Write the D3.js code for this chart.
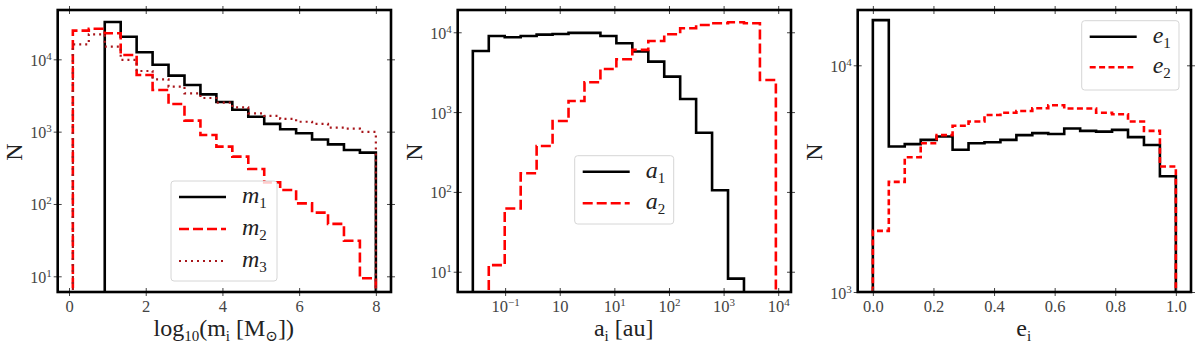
<!DOCTYPE html>
<html>
<head>
<meta charset="utf-8">
<script src="https://cdn.jsdelivr.net/npm/d3@7"></script>
<style>
  body { margin: 0; background: #fff; }
  svg { display: block; }
</style>
</head>
<body>
<div id="chart"></div>
<script>
// histogram bins: 19 equal bins per panel
const binCount = 19;
const mRange = [0.1, 8];          // log10(m) bins
const aRange = [-1.591, 3.957];   // bins in log10(a)
const eRange = [0, 1];

// counts
const m1 = [0, 0, 32800, 20500, 12500, 8400, 5950, 4420, 3280, 2570, 2010, 1610, 1280, 1080, 950, 780, 668, 558, 513];
const m2 = [24900, 26500, 22900, 11480, 6070, 3760, 2410, 1420, 900, 621, 451, 305, 199, 156, 102, 76, 53, 31, 9.4];
const m3 = [16100, 22200, 15000, 9800, 6900, 5290, 4190, 3390, 2920, 2520, 2170, 1790, 1650, 1500, 1370, 1280, 1135, 1100, 990];

const a1 = [5830, 8990, 8650, 8990, 9350, 9530, 9820, 9820, 8990, 7280, 5730, 4290, 2780, 1460, 552, 105, 8.2, 0, 0];
const a2 = [0, 12.1, 62, 171, 376, 773, 1377, 2360, 3470, 4590, 6010, 7790, 9440, 11220, 12350, 12970, 13350, 12970, 2520];

const e1 = [15830, 4385, 4490, 4690, 4850, 4240, 4530, 4580, 4690, 4920, 5020, 4980, 5260, 5140, 5100, 5190, 4820, 4450, 3240];
const e2 = [1860, 3060, 3930, 4530, 4920, 5410, 5650, 6040, 6180, 6290, 6470, 6670, 6450, 6450, 6180, 6080, 5650, 5140, 3580];

// ticks
const mTicks = [0, 2, 4, 6, 8];
const aTicks = [0.1, 1, 10, 100, 1000, 10000];
const aTickLabels = [["10", "\u22121"], ["10", ""], ["10", "1"], ["10", "2"], ["10", "3"], ["10", "4"]];
const eTicks = [0, 0.2, 0.4, 0.6, 0.8, 1.0];
const nTicks = [10, 100, 1000, 10000];
const nTicks3 = [1000, 10000];

const width = 1200, height = 347;
const serif = "'Liberation Serif', 'DejaVu Serif', serif";

const svg = d3.select("#chart").append("svg")
    .attr("width", width)
    .attr("height", height);

const defs = svg.append("defs");

function edges(range, n) {
    return d3.range(n + 1).map(i => range[0] + (range[1] - range[0]) * i / n);
}

function powLabel(sel, base, exp) {
    sel.text(null);
    sel.append("tspan").text(base);
    if (exp !== "") {
        sel.append("tspan")
            .attr("dy", -6)
            .style("font-size", "11px")
            .text(exp);
    }
}

// parts: [text, isSub, italic]
function subText(sel, parts, subSize) {
    let shift = 0;
    parts.forEach(([t, sub, it]) => {
        const target = sub ? 5 : 0;
        const ts = sel.append("tspan").text(t);
        if (target - shift !== 0) ts.attr("dy", target - shift);
        shift = target;
        if (sub) ts.style("font-size", subSize);
        if (it) ts.style("font-style", "italic");
    });
}

function drawPanel(cfg, idx) {
    const left = 57.7 + 400 * idx, top = 10, w = 333.3, h = 282;
    const g = svg.append("g").attr("transform", `translate(${left},${top})`);

    const x = cfg.x.range([0, w]);
    const y = d3.scaleLog().domain(cfg.yDomain).range([h, 0]);

    defs.append("clipPath").attr("id", "clip" + idx)
        .append("rect").attr("width", w).attr("height", h);

    const binEdges = edges(cfg.binRange, binCount).map(cfg.edgeMap);

    const lines = g.append("g").attr("clip-path", `url(#clip${idx})`);
    cfg.series.forEach(s => {
        const pts = [[x(binEdges[0]), h + 10]];
        s.values.forEach((v, i) => {
            const yy = v > 0 ? y(v) : h + 10;
            pts.push([x(binEdges[i]), yy]);
            pts.push([x(binEdges[i + 1]), yy]);
        });
        pts.push([x(binEdges[binCount]), h + 10]);
        lines.append("path")
            .attr("d", d3.line()(pts))
            .attr("fill", "none")
            .attr("stroke", s.color)
            .attr("stroke-width", s.width)
            .attr("stroke-dasharray", s.dash || cfg.dash)
            .attr("stroke-linejoin", "miter");
    });

    // axes with in/out ticks
    const tickStyle = a => {
        a.select(".domain").remove();
        a.selectAll(".tick line").attr("stroke", "#444").attr("stroke-width", 1);
    };

    const bottom = g.append("g").attr("transform", `translate(0,${h})`)
        .call(d3.axisBottom(x).tickValues(cfg.xTicks).tickSize(4));
    tickStyle(bottom);
    bottom.selectAll(".tick line").attr("y1", -4).attr("y2", 4);
    bottom.selectAll(".tick text")
        .attr("y", 20).attr("dy", 0)
        .style("font-family", serif).style("font-size", "16.5px").attr("fill", "#444")
        .each(function (d, i) {
            if (cfg.xLabels) powLabel(d3.select(this), cfg.xLabels[i][0], cfg.xLabels[i][1]);
            else d3.select(this).text(cfg.xFormat(d));
        });

    const topAx = g.append("g")
        .call(d3.axisTop(x).tickValues(cfg.xTicks).tickSize(4).tickFormat(""));
    tickStyle(topAx);
    topAx.selectAll(".tick line").attr("y1", -4).attr("y2", 4);

    const leftAx = g.append("g")
        .call(d3.axisLeft(y).tickValues(cfg.yTicks).tickSize(4));
    tickStyle(leftAx);
    leftAx.selectAll(".tick line").attr("x1", -4).attr("x2", 4);
    leftAx.selectAll(".tick text")
        .attr("x", -6).attr("dy", 0).attr("y", 6)
        .style("font-family", serif).style("font-size", "16px").attr("fill", "#444")
        .each(function (d) {
            powLabel(d3.select(this), "10", String(Math.round(Math.log10(d))));
        });

    const rightAx = g.append("g").attr("transform", `translate(${w},0)`)
        .call(d3.axisRight(y).tickValues(cfg.yTicks).tickSize(4).tickFormat(""));
    tickStyle(rightAx);
    rightAx.selectAll(".tick line").attr("x1", -4).attr("x2", 4);

    // frame
    g.append("rect")
        .attr("width", w).attr("height", h)
        .attr("fill", "none").attr("stroke", "#000").attr("stroke-width", 2.6);

    // axis titles
    g.append("text")
        .attr("transform", `translate(${-44},${h / 2 + 1}) rotate(-90)`)
        .attr("text-anchor", "middle")
        .attr("dy", "0.35em")
        .style("font-family", serif).style("font-size", "24px").attr("fill", "#222")
        .text("N");

    const xl = g.append("text")
        .attr("x", cfg.xLabelX).attr("y", 326)
        .attr("text-anchor", "middle")
        .style("font-family", serif).style("font-size", "24px").attr("fill", "#222");
    subText(xl, cfg.xTitle, "15px");

    // legend
    const L = cfg.legend;
    const lg = g.append("g").attr("transform", `translate(${L.x - left},${L.y - top})`);
    lg.append("rect")
        .attr("width", L.w).attr("height", L.h)
        .attr("rx", 3)
        .attr("fill", "#fff").attr("fill-opacity", 0.8)
        .attr("stroke", "#d6d6d6").attr("stroke-width", 1);
    cfg.series.forEach((s, i) => {
        const ly = 16 + i * L.step;
        lg.append("line")
            .attr("x1", 8).attr("x2", 55).attr("y1", ly).attr("y2", ly)
            .attr("stroke", s.color).attr("stroke-width", s.width)
            .attr("stroke-dasharray", s.dash || cfg.dash);
        const t = lg.append("text")
            .attr("x", 71).attr("y", ly + 6)
            .style("font-family", serif).style("font-size", "24px").attr("fill", "#222");
        subText(t, [[s.name, false, true], [s.sub, true, false]], "15px");
    });
}

const solid = { color: "#000", width: 2.6, dash: "none" };
const dashed = { color: "#ff0000", width: 2.6, dash: null };
const dotted = { color: "#a8161b", width: 2.2, dash: "2,4" };

const panels = [
    {
        x: d3.scaleLinear().domain([-0.295, 8.395]),
        binRange: mRange, edgeMap: d => d,
        yDomain: [Math.pow(10, 0.783), Math.pow(10, 4.682)],
        xTicks: mTicks, xFormat: d3.format("d"),
        yTicks: nTicks,
        dash: "10,4",
        series: [
            Object.assign({ values: m1, name: "m", sub: "1" }, solid),
            Object.assign({ values: m2, name: "m", sub: "2" }, dashed),
            Object.assign({ values: m3, name: "m", sub: "3" }, dotted)
        ],
        xLabelX: 166,
        xTitle: [["log", false, false], ["10", true, false], ["(m", false, false], ["i", true, false], [" [M", false, false], ["\u2299", true, false], ["])", false, false]],
        legend: { x: 171, y: 181, w: 106, h: 100, step: 32 }
    },
    {
        x: d3.scaleLog().domain([Math.pow(10, -1.868), Math.pow(10, 4.234)]),
        binRange: aRange, edgeMap: d => Math.pow(10, d),
        yDomain: [Math.pow(10, 0.746), Math.pow(10, 4.279)],
        xTicks: aTicks, xLabels: aTickLabels,
        yTicks: nTicks,
        dash: "10,4",
        series: [
            Object.assign({ values: a1, name: "a", sub: "1" }, solid),
            Object.assign({ values: a2, name: "a", sub: "2" }, dashed)
        ],
        xLabelX: 166,
        xTitle: [["a", false, false], ["i", true, false], [" [au]", false, false]],
        legend: { x: 574.7, y: 155.7, w: 99, h: 68.3, step: 31.6 }
    },
    {
        x: d3.scaleLinear().domain([-0.05, 1.05]),
        binRange: eRange, edgeMap: d => d,
        yDomain: [1000, Math.pow(10, 4.244)],
        xTicks: eTicks, xFormat: d3.format(".1f"),
        yTicks: nTicks3,
        dash: "6,3.4",
        series: [
            Object.assign({ values: e1, name: "e", sub: "1" }, solid),
            Object.assign({ values: e2, name: "e", sub: "2" }, dashed)
        ],
        xLabelX: 166,
        xTitle: [["e", false, false], ["i", true, false]],
        legend: { x: 1081.7, y: 20.7, w: 97.3, h: 69.3, step: 30.6 }
    }
];

panels.forEach((p, i) => drawPanel(p, i));
</script>
</body>
</html>
